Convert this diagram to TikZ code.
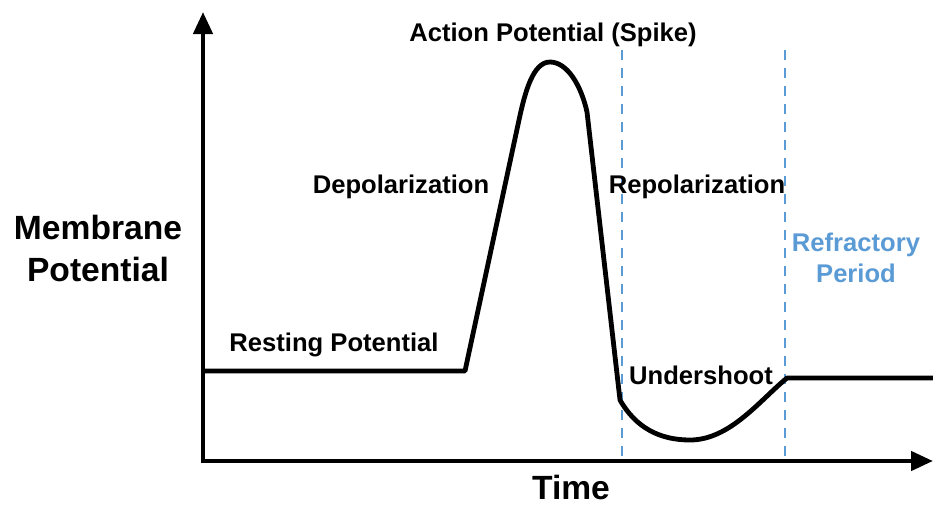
\documentclass[tikz,border=0pt]{standalone}
\usepackage{fontspec}
\setmainfont{Liberation Sans}
\usetikzlibrary{arrows.meta}
\definecolor{refblue}{RGB}{91,155,213}
\begin{document}
\begin{tikzpicture}[x=1pt,y=-1pt,
  axis/.style={line width=4.5pt,-{Triangle[length=22pt,width=19pt]}},
  curve/.style={line width=4.8pt,line join=round},
  guide/.style={refblue,line width=2pt,dash pattern=on 10pt off 8pt},
  lbl/.style={font=\bfseries\fontsize{25.6}{30}\selectfont,inner sep=0pt},
  big/.style={font=\bfseries\fontsize{33.6}{42}\selectfont,inner sep=0pt,align=center},
  bluelbl/.style={lbl,text=refblue,align=center}]
\useasboundingbox (0,0) rectangle (933,506);
% axes
\coordinate (o) at (203,461);
\coordinate (ytop) at (203,12);
\coordinate (xend) at (933,461);
\draw[axis] (203,463) -- (ytop);
\draw[axis] (201,461) -- (xend);
% guide lines
\coordinate (g1t) at (622,50);
\coordinate (g1b) at (622,461);
\coordinate (g2t) at (785,50);
\coordinate (g2b) at (785,461);
\draw[guide] (g1t) -- (g1b);
\draw[guide] (g2t) -- (g2b);
% potential curve
\coordinate (r0) at (203,371);
\coordinate (r1) at (465,371);
\coordinate (up) at (519,120);
\coordinate (peak) at (550,62);
\coordinate (dn) at (587,112);
\coordinate (low) at (620,400);
\coordinate (bot) at (690,440);
\coordinate (rec) at (787,378);
\coordinate (endr) at (933,378);
\draw[curve] (r0) -- (r1) -- (up)
  .. controls (525,92) and (533,62) .. (peak)
  .. controls (567,62) and (581,85) .. (dn)
  -- (low)
  .. controls (636,428) and (660,440) .. (bot)
  .. controls (730,440) and (760,400) .. (rec)
  -- (endr);
% labels
\node[lbl] (ap) at (553,35) {Action Potential (Spike)};
\node[lbl] (dep) at (401,187) {Depolarization};
\node[lbl] (rep) at (697,187) {Repolarization};
\node[lbl] (rest) at (334,345) {Resting Potential};
\node[lbl] (under) at (701,375) {Undershoot};
\node[bluelbl] (refr) at (856,258) {Refractory\\[1pt]Period};
\node[big] (mp) at (98,248) {Membrane\\Potential};
\node[big] (time) at (571,487) {Time};
\end{tikzpicture}
\end{document}
